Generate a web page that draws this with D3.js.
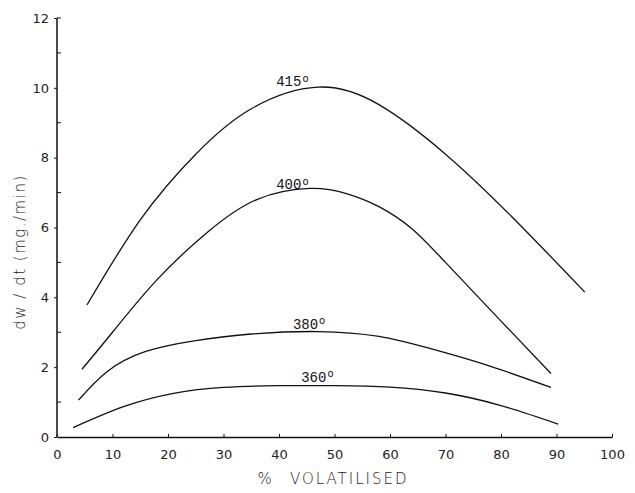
<!DOCTYPE html>
<html lang="en">
<head>
<meta charset="UTF-8" />
<title>dw/dt vs % volatilised</title>
<script src="https://cdn.jsdelivr.net/npm/d3@7"></script>
<style>
  body { margin: 0; background: #fff; }
  svg { display: block; }
  .tick-label { font-family: "DejaVu Sans", sans-serif; font-size: 13px; fill: #222; }
  .curve-label { font-family: "Liberation Mono", monospace; font-size: 14px; fill: #111; }
  .axis-title { font-family: "DejaVu Sans", sans-serif; font-size: 15px; font-weight: 300; fill: #222; }
</style>
</head>
<body>
<script>
// values
var xTicks = [0, 10, 20, 30, 40, 50, 60, 70, 80, 90, 100];
var yTicks = [0, 2, 4, 6, 8, 10, 12];
var yMinor = [1, 3, 5, 7, 9, 11];

var temps = ["415", "400", "380", "360"];

var x415 = [5.4, 15, 25, 35, 47, 58, 70, 82, 95.1];
var y415 = [3.78, 6.22, 8.1, 9.4, 10.02, 9.52, 8.1, 6.3, 4.15];

var x400 = [4.5, 10, 18, 27, 36, 45.6, 52, 58, 64, 70, 80, 89];
var y400 = [1.94, 3.0, 4.5, 5.85, 6.8, 7.12, 6.98, 6.6, 5.96, 5.0, 3.32, 1.82];

var x380 = [3.9, 9, 16, 25, 35, 47, 58, 68, 78, 89];
var y380 = [1.06, 1.87, 2.45, 2.76, 2.95, 3.02, 2.88, 2.5, 2.03, 1.42];

var x360 = [2.9, 12, 21, 30, 40, 50, 60, 70, 80, 90.3];
var y360 = [0.27, 0.87, 1.25, 1.42, 1.47, 1.47, 1.43, 1.26, 0.9, 0.37];

// label anchor (data units) for each curve
var labelX = [39.5, 39.5, 42.5, 44];
var labelY = [10.05, 7.1, 3.1, 1.58];

var width = 635, height = 493;
var margin = { top: 18, right: 23, bottom: 56, left: 57 };

var svg = d3.select("body").append("svg")
  .attr("width", width)
  .attr("height", height);

var xScale = d3.scaleLinear().domain([0, 100]).range([margin.left, width - margin.right]);
var yScale = d3.scaleLinear().domain([0, 12]).range([height - margin.bottom, margin.top]);

// x axis
var xAxis = d3.axisBottom(xScale).tickValues(xTicks).tickSize(0).tickPadding(10);
var gx = svg.append("g")
  .attr("transform", "translate(0," + yScale(0) + ")")
  .call(xAxis);
gx.select(".domain").attr("stroke", "#111").attr("stroke-width", 1.5);
gx.selectAll(".tick text").attr("class", "tick-label").attr("dy", "0.9em");
gx.selectAll(".tick").append("line")
  .attr("y1", 0).attr("y2", -3)
  .attr("stroke", "#111").attr("stroke-width", 1);

// y axis
var yAxis = d3.axisLeft(yScale).tickValues(yTicks).tickSize(3).tickPadding(5);
var gy = svg.append("g")
  .attr("transform", "translate(" + xScale(0) + ",0)")
  .call(yAxis);
gy.select(".domain").attr("stroke", "#111").attr("stroke-width", 1.5).attr("d",
  "M0," + yScale(0) + "V" + yScale(12));
gy.selectAll(".tick line").attr("stroke", "#111");
gy.selectAll(".tick text").attr("class", "tick-label");

gy.selectAll(".minor")
  .data(yMinor.concat([12]))
  .enter().append("line")
  .attr("x1", 0).attr("x2", 4)
  .attr("y1", function(d) { return yScale(d); })
  .attr("y2", function(d) { return yScale(d); })
  .attr("stroke", "#111").attr("stroke-width", 1);

// curves
var line = d3.line()
  .x(function(d) { return xScale(d[0]); })
  .y(function(d) { return yScale(d[1]); })
  .curve(d3.curveNatural);

var series = [d3.zip(x415, y415), d3.zip(x400, y400), d3.zip(x380, y380), d3.zip(x360, y360)];

svg.selectAll(".curve")
  .data(series)
  .enter().append("path")
  .attr("class", "curve")
  .attr("d", line)
  .attr("fill", "none")
  .attr("stroke", "#111")
  .attr("stroke-width", 1.3);

// curve labels
var lab = svg.selectAll(".clabel")
  .data(temps)
  .enter().append("text")
  .attr("class", "curve-label")
  .attr("x", function(d, i) { return xScale(labelX[i]); })
  .attr("y", function(d, i) { return yScale(labelY[i]); });
lab.append("tspan").text(function(d) { return d; });
lab.append("tspan").attr("dy", "-0.45em").attr("dx", "1px")
  .attr("font-family", "DejaVu Sans").attr("font-size", "10px").text("o");

// axis titles
svg.append("text")
  .attr("class", "axis-title")
  .attr("x", 333)
  .attr("y", 484)
  .attr("text-anchor", "middle")
  .attr("letter-spacing", "2px")
  .text("%\u2002 VOLATILISED");

svg.append("text")
  .attr("class", "axis-title")
  .attr("transform", "translate(25,252) rotate(-90)")
  .attr("text-anchor", "middle")
  .attr("letter-spacing", "1.5px")
  .text("dw / dt  (mg./min)");
</script>
</body>
</html>
